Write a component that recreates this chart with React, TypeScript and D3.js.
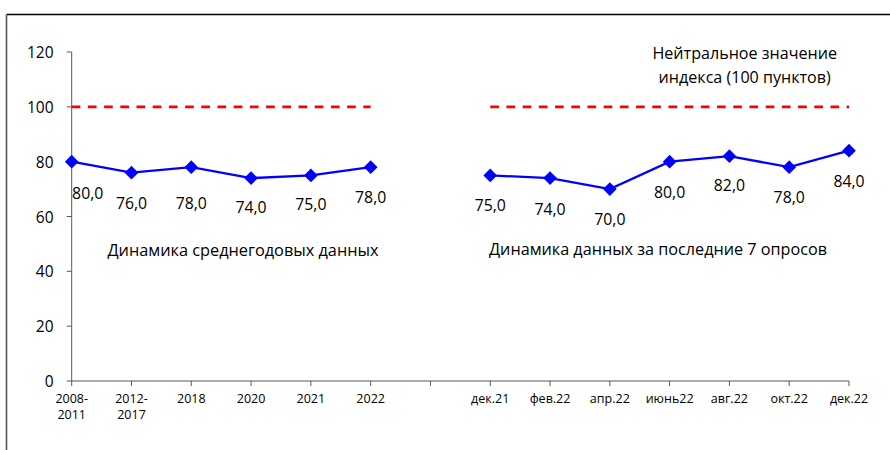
import React from "react";
import * as d3 from "d3";

const leftCategories = ["2008-\n2011", "2012-\n2017", "2018", "2020", "2021", "2022"];
const rightCategories = ["дек.21", "фев.22", "апр.22", "июнь22", "авг.22", "окт.22", "дек.22"];
const leftValues = [80, 76, 78, 74, 75, 78];
const rightValues = [75, 74, 70, 80, 82, 78, 84];
const neutralValue = 100;
const yTicks = [0, 20, 40, 60, 80, 100, 120];
const leftTitle = "Динамика среднегодовых данных";
const rightTitle = "Динамика данных за последние 7 опросов";
const noteLines = ["Нейтральное значение", "индекса (100 пунктов)"];

// layout: manual label nudges (dx, dy) per point, like the source
const leftLabelNudge: [number, number][] = [[16, 31], [0, 30], [0, 36], [0, 29], [0, 29], [0, 30]];
const rightLabelNudge: [number, number][] = [[0, 30], [0, 31], [0, 30], [0, 30], [0, 29], [0, 30], [0, 30]];

const W = 890;
const H = 450;
const FONT = "'Open Sans', 'Noto Sans', sans-serif";

export default function App() {
  const categories = [...leftCategories, "", ...rightCategories];
  const idx = categories.map((_, i) => i);
  const x = d3.scalePoint<number>().domain(idx).range([71.7, 849]);
  const y = d3.scaleLinear().domain([0, 120]).range([381, 52]);

  const leftPts = leftValues.map((v, i) => ({ v, i, nudge: leftLabelNudge[i] }));
  const off = leftCategories.length + 1;
  const rightPts = rightValues.map((v, i) => ({ v, i: i + off, nudge: rightLabelNudge[i] }));

  const line = d3
    .line<{ v: number; i: number }>()
    .x((d) => x(d.i) as number)
    .y((d) => y(d.v));

  const diamond = d3.symbol().type(d3.symbolDiamond2).size(120)() as string;
  const fmt = (v: number) => v.toFixed(1).replace(".", ",");

  const x0 = x(0) as number;
  const xEnd = x(idx.length - 1) as number;
  const axisColor = "#595959";

  const groups = [
    { pts: leftPts, a: 0, b: leftCategories.length - 1 },
    { pts: rightPts, a: off, b: idx.length - 1 },
  ];

  return (
    <div style={{ position: "absolute", left: 0, top: 0 }}>
      <svg width={W} height={H} style={{ display: "block", background: "#fff" }}>
        <rect x={0} y={0} width={W} height={H} fill="#fff" />
        {/* frame */}
        <line x1={6.5} y1={14.5} x2={W} y2={14.5} stroke="#000" strokeWidth={1.3} />
        <line x1={6.5} y1={14.5} x2={6.5} y2={H} stroke="#555" strokeWidth={1.6} />

        {/* y axis */}
        <line x1={x0} y1={y(120)} x2={x0} y2={y(0)} stroke={axisColor} strokeWidth={1} />
        {yTicks.map((t) => (
          <g key={t}>
            <line x1={x0 - 5} x2={x0} y1={y(t)} y2={y(t)} stroke={axisColor} />
            <text
              x={53.5}
              y={y(t)}
              textAnchor="end"
              dominantBaseline="central"
              fontFamily={FONT}
              fontSize={15.5}
              fill="#000"
            >
              {t}
            </text>
          </g>
        ))}

        {/* x axis */}
        <line x1={x0} y1={y(0)} x2={xEnd} y2={y(0)} stroke={axisColor} strokeWidth={1} />
        {idx.map((i) => (
          <g key={i}>
            <line x1={x(i)} x2={x(i)} y1={y(0)} y2={y(0) + 5} stroke={axisColor} />
            {categories[i].split("\n").map((ln, k) => (
              <text
                key={k}
                x={x(i)}
                y={398 + k * 16.3}
                textAnchor="middle"
                dominantBaseline="central"
                fontFamily={FONT}
                fontSize={12.5}
                fill="#000"
              >
                {ln}
              </text>
            ))}
          </g>
        ))}

        {/* neutral lines */}
        {groups.map((g, k) => (
          <line
            key={k}
            x1={x(g.a)}
            x2={x(g.b)}
            y1={y(neutralValue)}
            y2={y(neutralValue)}
            stroke="#FF0000"
            strokeWidth={2.6}
            strokeDasharray="8.7,7.5"
          />
        ))}

        {/* series */}
        {groups.map((g, k) => (
          <g key={k}>
            <path d={line(g.pts) as string} fill="none" stroke="#0000FF" strokeWidth={2.3} />
            {g.pts.map((p) => (
              <path key={p.i} d={diamond} transform={`translate(${x(p.i)},${y(p.v)})`} fill="#0000FF" />
            ))}
            {g.pts.map((p) => (
              <text
                key={"l" + p.i}
                x={(x(p.i) as number) + p.nudge[0]}
                y={y(p.v) + p.nudge[1]}
                textAnchor="middle"
                dominantBaseline="central"
                fontFamily={FONT}
                fontSize={15.8}
                fill="#000"
              >
                {fmt(p.v)}
              </text>
            ))}
          </g>
        ))}

        {/* titles */}
        <text x={243} y={250} textAnchor="middle" dominantBaseline="central" fontFamily={FONT} fontSize={16.3}>
          {leftTitle}
        </text>
        <text x={658} y={249} textAnchor="middle" dominantBaseline="central" fontFamily={FONT} fontSize={16.2}>
          {rightTitle}
        </text>
        {noteLines.map((t, k) => (
          <text
            key={k}
            x={744.7}
            y={53.3 + k * 23.4}
            textAnchor="middle"
            dominantBaseline="central"
            fontFamily={FONT}
            fontSize={16.1}
          >
            {t}
          </text>
        ))}
      </svg>
    </div>
  );
}
